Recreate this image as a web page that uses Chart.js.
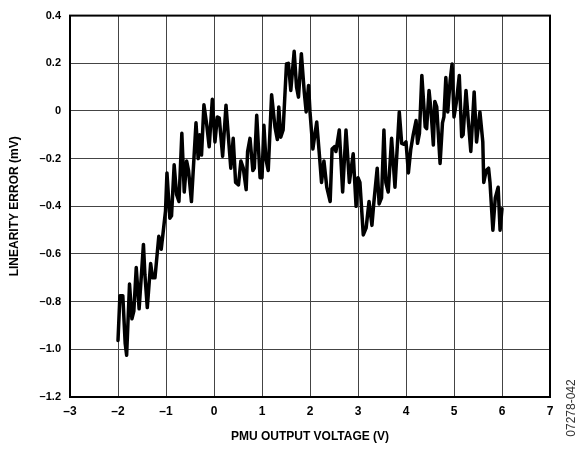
<!DOCTYPE html>
<html>
<head>
<meta charset="utf-8">
<script src="https://cdn.jsdelivr.net/npm/chart.js@4/dist/chart.umd.min.js"></script>
<style>
  html, body { margin: 0; padding: 0; background: #fff; }
  #wrap { width: 584px; height: 454px; }
</style>
</head>
<body>
<div id="wrap"><canvas id="lin" width="584" height="454"></canvas></div>
<script>
// PMU output voltage (V) and linearity error (mV), traced sweep
const voltage = [
  -2.00, -1.96, -1.90, -1.85, -1.82, -1.76, -1.71, -1.67, -1.62, -1.56,
  -1.47, -1.44, -1.39, -1.32, -1.28, -1.23, -1.15, -1.10, -1.06, -1.01,
  -0.98, -0.92, -0.885, -0.83, -0.78, -0.73, -0.67, -0.62, -0.57, -0.53,
  -0.47, -0.375, -0.33, -0.30, -0.26, -0.21, -0.15, -0.10, -0.035, 0.02,
  0.07, 0.11, 0.18, 0.25, 0.30, 0.35, 0.40, 0.45, 0.51, 0.56,
  0.61, 0.67, 0.70, 0.75, 0.81, 0.84, 0.89, 0.96, 1.00, 1.04,
  1.08, 1.13, 1.20, 1.27, 1.32, 1.35, 1.39, 1.44, 1.51, 1.55,
  1.60, 1.67, 1.72, 1.76, 1.82, 1.88, 1.92, 1.97, 2.00, 2.06,
  2.08, 2.14, 2.19, 2.24, 2.29, 2.35, 2.42, 2.46, 2.51, 2.54,
  2.61, 2.68, 2.75, 2.82, 2.90, 2.96, 3.00, 3.04, 3.11, 3.17,
  3.23, 3.29, 3.33, 3.40, 3.44, 3.49, 3.54, 3.58, 3.63, 3.70,
  3.77, 3.86, 3.91, 3.96, 4.00, 4.05, 4.10, 4.15, 4.21, 4.24,
  4.28, 4.33, 4.40, 4.43, 4.48, 4.52, 4.57, 4.60, 4.64, 4.71,
  4.76, 4.79, 4.83, 4.87, 4.92, 4.96, 5.00, 5.05, 5.11, 5.16,
  5.19, 5.25, 5.30, 5.35, 5.42, 5.47, 5.54, 5.60, 5.62, 5.67,
  5.72, 5.75, 5.81, 5.86, 5.92, 5.96, 6.00
];
const linError = [
  -0.963, -0.775, -0.775, -0.976, -1.025, -0.726, -0.872, -0.840, -0.657, -0.830,
  -0.560, -0.685, -0.825, -0.640, -0.700, -0.700, -0.526, -0.580, -0.510, -0.420,
  -0.260, -0.450, -0.440, -0.226, -0.350, -0.380, -0.094, -0.340, -0.210, -0.250,
  -0.380, -0.050, -0.200, -0.100, -0.185, 0.026, -0.060, -0.150, 0.049, -0.130,
  -0.025, -0.030, -0.190, 0.024, -0.110, -0.240, -0.115, -0.300, -0.310, -0.210,
  -0.240, -0.330, -0.170, -0.115, -0.250, -0.240, -0.018, -0.280, -0.280, -0.060,
  -0.200, -0.250, 0.068, -0.067, -0.120, 0.017, -0.110, -0.080, 0.197, 0.200,
  0.086, 0.250, 0.100, 0.058, 0.240, 0.080, -0.004, 0.107, -0.004, -0.160,
  -0.130, -0.046, -0.170, -0.300, -0.210, -0.320, -0.380, -0.160, -0.150, -0.170,
  -0.080, -0.340, -0.080, -0.300, -0.180, -0.400, -0.280, -0.300, -0.520, -0.490,
  -0.380, -0.480, -0.385, -0.240, -0.390, -0.365, -0.080, -0.300, -0.340, -0.115,
  -0.320, -0.004, -0.136, -0.140, -0.130, -0.260, -0.160, -0.100, -0.040, -0.136,
  -0.094, 0.149, -0.067, -0.074, 0.086, 0.003, -0.143, 0.040, 0.017, -0.220,
  -0.050, -0.025, 0.140, -0.004, 0.128, 0.197, -0.025, 0.038, 0.149, -0.108,
  -0.100, 0.086, -0.046, -0.170, 0.080, -0.130, -0.004, -0.130, -0.300, -0.250,
  -0.240, -0.300, -0.500, -0.365, -0.320, -0.500, -0.410
];

const xTicks = [-3, -2, -1, 0, 1, 2, 3, 4, 5, 6, 7];
const yTicks = [-1.2, -1.0, -0.8, -0.6, -0.4, -0.2, 0, 0.2, 0.4];

const points = voltage.map((v, i) => ({ x: v, y: linError[i] }));
const FONT = 'Liberation Sans, Arial, sans-serif';

// en dash for negative numbers, like the datasheet style
function dash(s) { return String(s).replace('-', '\u2013'); }

// box around the plot area plus the figure number on the right edge
const framePlugin = {
  id: 'frame',
  afterDraw(chart) {
    const { ctx, chartArea: a } = chart;
    ctx.save();
    ctx.strokeStyle = '#000';
    ctx.lineWidth = 2;
    ctx.strokeRect(a.left, a.top, a.right - a.left, a.bottom - a.top);
    ctx.translate(572, 408);
    ctx.rotate(-Math.PI / 2);
    ctx.fillStyle = '#333';
    ctx.font = '12px ' + FONT;
    ctx.textAlign = 'center';
    ctx.textBaseline = 'middle';
    ctx.fillText('07278-042', 0, 0);
    ctx.restore();
  }
};

new Chart(document.getElementById('lin'), {
  type: 'scatter',
  data: {
    datasets: [{
      data: points,
      showLine: true,
      borderColor: '#000',
      borderWidth: 3.5,
      pointRadius: 0,
      tension: 0,
      borderJoinStyle: 'round',
      borderCapStyle: 'round'
    }]
  },
  options: {
    responsive: false,
    animation: false,
    layout: { padding: { left: 0, right: 34, top: 13, bottom: 0 } },
    plugins: { legend: { display: false }, tooltip: { enabled: false } },
    scales: {
      x: {
        type: 'linear',
        min: -3, max: 7,
        afterBuildTicks: s => { s.ticks = xTicks.map(v => ({ value: v })); },
        afterFit: s => { s.height = 57; },
        grid: { color: '#444', lineWidth: 1, drawTicks: false },
        border: { display: false },
        ticks: {
          color: '#000', padding: 7,
          font: { family: FONT, size: 12, weight: 'bold' },
          callback: v => dash(v)
        },
        title: {
          display: true, text: 'PMU OUTPUT VOLTAGE (V)', color: '#000',
          font: { family: FONT, size: 12, weight: 'bold' }, padding: { top: 0, bottom: 10 }
        }
      },
      y: {
        type: 'linear',
        min: -1.2, max: 0.4,
        afterBuildTicks: s => { s.ticks = yTicks.map(v => ({ value: v })); },
        afterFit: s => { s.width = 70; },
        grid: { color: '#444', lineWidth: 1, drawTicks: false },
        border: { display: false },
        ticks: {
          color: '#000', padding: 9,
          font: { family: FONT, size: 11, weight: 'bold' },
          callback: v => v === 0 ? '0' : dash(v.toFixed(1))
        },
        title: {
          display: true, text: 'LINEARITY ERROR (mV)', color: '#000',
          font: { family: FONT, size: 12, weight: 'bold' }, padding: { top: 7, bottom: 0 }
        }
      }
    }
  },
  plugins: [framePlugin]
});
</script>
</body>
</html>
